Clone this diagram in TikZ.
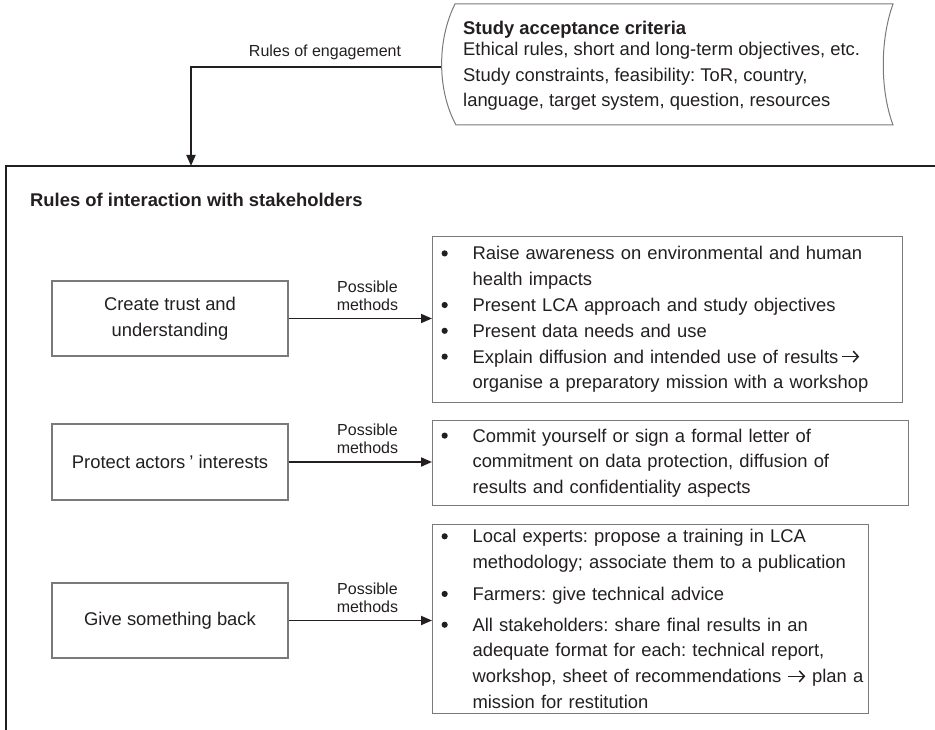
\documentclass[tikz,border=0pt]{standalone}
\usepackage{fontspec}
\setmainfont{Liberation Sans}
\usetikzlibrary{arrows.meta}
\definecolor{ink}{HTML}{231F20}
\definecolor{edge}{HTML}{7A7A7A}
\newcommand{\mainsz}{\fontsize{18.4}{25.8}\selectfont}
\newcommand{\smallsz}{\fontsize{16}{18}\selectfont}
\newsavebox{\bulbox}
\newsavebox{\arrbox}
\newcommand{\bi}[1]{\makebox[31pt][l]{\usebox{\bulbox}}\mbox{#1}}
\newcommand{\ci}[1]{\makebox[31pt]{}\mbox{#1}}
\newcommand{\arr}{\usebox{\arrbox}}
\tikzset{
  lbox/.style={draw=edge, line width=1.1pt, minimum width=236pt, minimum height=75pt,
    inner sep=0pt, align=center, text=ink, font=\mainsz},
  rbox/.style={draw=edge, line width=1.1pt, inner xsep=9pt, inner ysep=0pt,
    align=left, anchor=north west, text=ink, font=\mainsz},
  conn/.style={draw=ink, line width=1.8pt, -{Triangle[length=11pt,width=9pt]}},
  meth/.style={font=\smallsz, align=center, text=ink, inner sep=0pt, anchor=south,
    pos=0.55, yshift=7pt},
}
\frenchspacing
\begin{document}
\sbox{\bulbox}{\begin{pgfpicture}\pgfsetbaseline{0pt}\pgfsetfillcolor{ink}%
  \pgfpathcircle{\pgfpoint{0pt}{6.4pt}}{3.1pt}\pgfusepath{fill}\end{pgfpicture}}%
\sbox{\arrbox}{\begin{pgfpicture}\pgfsetbaseline{0pt}\pgfsetstrokecolor{ink}%
  \pgfsetlinewidth{1.5pt}\pgfsetarrowsend{Straight Barb[length=5pt,width=11pt]}%
  \pgfpathmoveto{\pgfpoint{0pt}{6.4pt}}\pgfpathlineto{\pgfpoint{17pt}{6.4pt}}%
  \pgfusepath{stroke}\end{pgfpicture}}%
\begin{tikzpicture}[x=1pt,y=-1pt]
\useasboundingbox (0,0) rectangle (935,730);
% study acceptance criteria (stored-data shape)
\draw[edge, line width=1pt] (455,4) -- (893,4) .. controls (880,40) and (880,90) .. (893,125)
  -- (456,125) .. controls (437,90) and (437,40) .. (455,4) -- cycle;
\node[anchor=north west, inner sep=0pt, align=left, text=ink, font=\mainsz] (crit) at (463,21)
  {\textbf{Study acceptance criteria}\\[-5pt]
   Ethical rules, short and long-term objectives, etc.\\
   Study constraints, feasibility: ToR, country,\\
   language, target system, question, resources};
\coordinate (docL) at (441,67);
% outer frame
\draw[ink, line width=2pt] (935,166) -- (6,166) -- (6,730);
\coordinate (frameT) at (191,166);
\draw[conn] (docL) -| node[pos=0.232, anchor=south, inner sep=0pt, yshift=6.5pt, font=\smallsz, text=ink] (eng) {Rules of engagement} (frameT);
\node[anchor=west, inner sep=0pt, font=\mainsz\bfseries, text=ink] (title) at (30,200)
  {Rules of interaction with stakeholders};
% left boxes
\node[lbox, minimum height=75pt] (A) at (170,318.5) {Create trust and\\understanding};
\node[lbox, minimum height=76pt] (B) at (170,462) {Protect actors\hspace{4pt}’ interests};
\node[lbox, minimum height=75pt] (C) at (170,620.5) {Give something back};
% right boxes
\node[rbox, minimum width=470pt, minimum height=166pt, text width=452pt] (R1) at (432,236)
  {\bi{Raise awareness on environmental and human}\\
   \ci{health impacts}\\
   \bi{Present LCA approach and study objectives}\\
   \bi{Present data needs and use}\\
   \bi{Explain diffusion and intended use of results\,\arr}\\
   \ci{organise a preparatory mission with a workshop}};
\node[rbox, minimum width=476pt, minimum height=85pt, text width=458pt] (R2) at (432,420)
  {\bi{Commit yourself or sign a formal letter of}\\
   \ci{commitment on data protection, diffusion of}\\
   \ci{results and confidentiality aspects}};
\node[rbox, minimum width=436pt, minimum height=189pt, text width=418pt] (R3) at (432,524)
  {\bi{Local experts: propose a training in LCA}\\
   \ci{methodology; associate them to a publication}\\[6pt]
   \bi{Farmers: give technical advice}\\[5pt]
   \bi{All stakeholders: share final results in an}\\
   \ci{adequate format for each: technical report,}\\
   \ci{workshop, sheet of recommendations \arr\ plan a}\\
   \ci{mission for restitution}};
% connectors
\draw[conn] (A.east) -- node[meth] (mA) {Possible\\methods} (A.east -| R1.west);
\draw[conn] (B.east) -- node[meth] (mB) {Possible\\methods} (B.east -| R2.west);
\draw[conn] (C.east) -- node[meth] (mC) {Possible\\methods} (C.east -| R3.west);
\end{tikzpicture}
\end{document}
